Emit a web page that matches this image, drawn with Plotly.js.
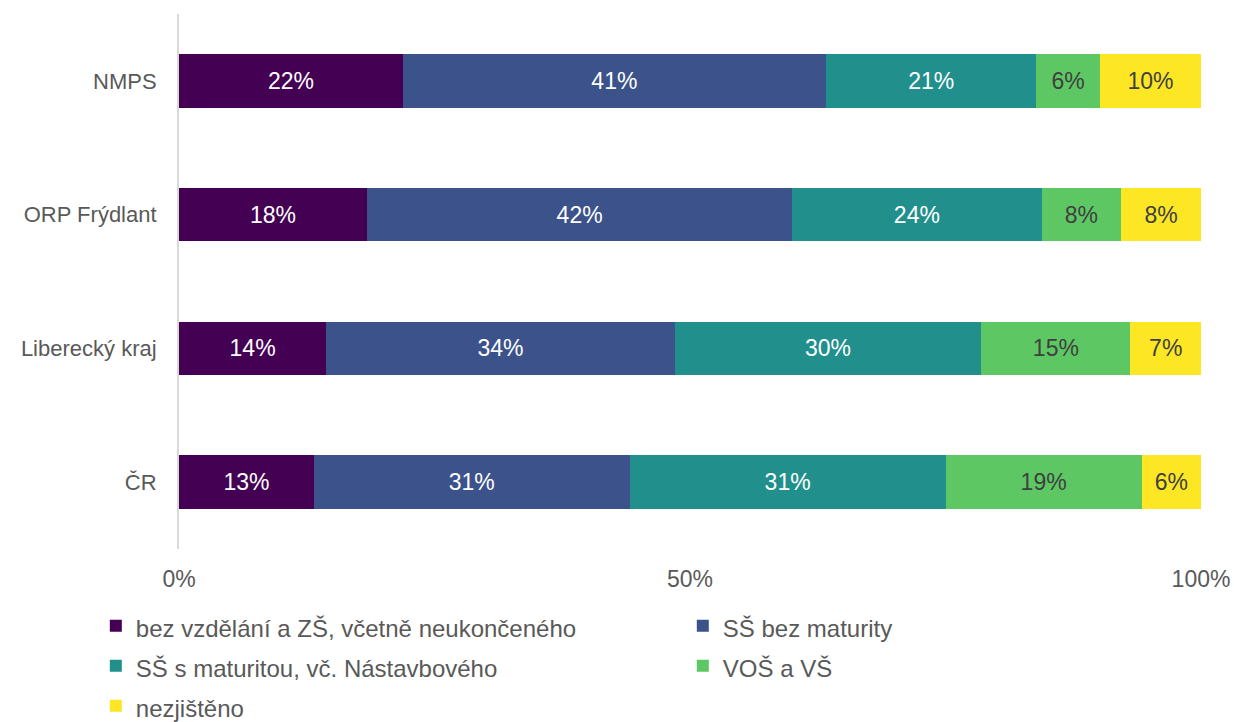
<!DOCTYPE html>
<html>
<head>
<meta charset="utf-8">
<script src="https://cdn.plot.ly/plotly-3.0.1.min.js"></script>
<style>html,body{margin:0;padding:0;background:#fff;}#chart{width:1234px;height:722px;}</style>
</head>
<body>
<div id="chart"></div>
<script>
const categories = ["NMPS", "ORP Frýdlant", "Liberecký kraj", "ČR"];
const seriesNames = [
  "bez vzdělání a ZŠ, včetně neukončeného",
  "SŠ bez maturity",
  "SŠ s maturitou, vč. Nástavbového",
  "VOŠ a VŠ",
  "nezjištěno"
];
const bezVzdelani = [21.9, 18.4, 14.4, 13.2];
const ssBezMaturity = [41.4, 41.6, 34.1, 30.9];
const ssSMaturitou = [20.6, 24.4, 30.0, 30.9];
const vosVs = [6.2, 7.8, 14.6, 19.2];
const nezjisteno = [9.9, 7.8, 6.9, 5.8];
const xTickVals = [0, 50, 100];
const xTickText = ["0%", "50%", "100%"];

const seriesValues = [bezVzdelani, ssBezMaturity, ssSMaturitou, vosVs, nezjisteno];
const colors = ["#440154", "#3b528b", "#21908d", "#5dc863", "#fde725"];
const textColors = ["#ffffff", "#ffffff", "#ffffff", "#404040", "#404040"];

const traces = seriesValues.map((vals, i) => ({
  type: "bar",
  orientation: "h",
  name: '<span style="font-size:24px">' + seriesNames[i] + '</span>',
  y: categories,
  x: vals,
  marker: { color: colors[i], line: { width: 0 } },
  text: vals.map(v => Math.round(v) + "%"),
  texttemplate: "%{text}",
  textposition: "inside",
  insidetextanchor: "middle",
  textangle: 0,
  constraintext: "none",
  insidetextfont: { family: "Liberation Sans, Arial, sans-serif", size: 23, color: textColors[i] },
  hoverinfo: "skip"
}));

const layout = {
  width: 1234,
  height: 722,
  barmode: "stack",
  bargap: 0.6,
  paper_bgcolor: "#ffffff",
  plot_bgcolor: "#ffffff",
  margin: { l: 179, r: 33, t: 14, b: 173, autoexpand: false },
  font: { family: "Liberation Sans, Arial, sans-serif", size: 22, color: "#595959" },
  xaxis: {
    range: [0, 100],
    tickvals: xTickVals,
    ticktext: xTickText,
    showgrid: false,
    zeroline: false,
    showline: false,
    ticks: "",
    ticklabelstandoff: 14,
    tickfont: { size: 23, color: "#595959" },
    fixedrange: true
  },
  yaxis: {
    autorange: "reversed",
    showgrid: false,
    zeroline: false,
    showline: true,
    linecolor: "#d9d9d9",
    linewidth: 2,
    ticks: "",
    ticklabelstandoff: 16,
    tickfont: { size: 22, color: "#595959" },
    fixedrange: true
  },
  showlegend: true,
  legend: {
    orientation: "h",
    traceorder: "normal",
    xref: "paper",
    x: -0.0814,
    xanchor: "left",
    y: -0.0966,
    yanchor: "top",
    entrywidth: 542,
    entrywidthmode: "pixels",
    itemwidth: 30,
    font: { size: 28.5, color: "#595959" },
    bgcolor: "rgba(0,0,0,0)"
  }
};

Plotly.newPlot("chart", traces, layout, { displayModeBar: false, staticPlot: true });
</script>
</body>
</html>
